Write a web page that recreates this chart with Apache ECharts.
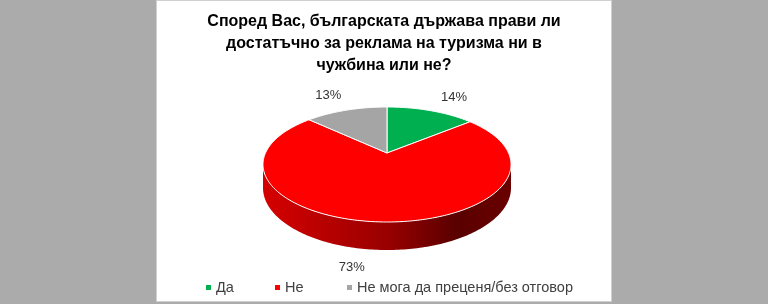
<!DOCTYPE html>
<html><head><meta charset="utf-8">
<script src="https://cdn.jsdelivr.net/npm/echarts/dist/echarts.min.js"></script>
<style>html,body{margin:0;padding:0;background:#ababab}#c{width:768px;height:304px}</style>
</head><body><div id="c"></div>
<script>
// ---- data ----
const titleLines = ['Според Вас, българската държава прави ли', 'достатъчно за реклама на туризма ни в', 'чужбина или не?'];
const categories = ['Да', 'Не', 'Не мога да преценя/без отговор'];
const values = [14, 73, 13];
// ---- style ----
const colors = ['#00b050', '#ff0000', '#a5a5a5'];
const labelNudge = [[4, 1], [-29, 1], [0, 0]];
const legendLeft = [201, 270, 342];

const total = values.reduce((a, b) => a + b, 0);
const startDeg = [], endDeg = [];
let acc = 0;
values.forEach(v => { startDeg.push(acc / total * 360); acc += v; endDeg.push(acc / total * 360); });

// 3D perspective pie geometry (layout)
const K = 0.2, A = 55.2, B = 121.5, DEPTH = 22.4;
const CXF = 387 / 768, CYF = 153 / 304;
const LABEL_RX = 45, LABEL_RY = 16;
const SIL = Math.acos(-K) * 180 / Math.PI;

function proj(cx, cy, deg, r, h) {
  const t = deg * Math.PI / 180, c = Math.cos(t), s = Math.sin(t);
  const sc = 1 / (1 + K * r * c);
  return [cx + B * r * s * sc, cy - A * r * c * sc + h * sc];
}
function arc(cx, cy, a0, a1, r, h) {
  const n = Math.max(2, Math.ceil(Math.abs(a1 - a0)));
  const pts = [];
  for (let i = 0; i <= n; i++) pts.push(proj(cx, cy, a0 + (a1 - a0) * i / n, r, h));
  return pts;
}
function shade(hex, f) {
  const n = parseInt(hex.slice(1), 16);
  const r = Math.round(((n >> 16) & 255) * f), g = Math.round(((n >> 8) & 255) * f), b = Math.round((n & 255) * f);
  return 'rgb(' + r + ',' + g + ',' + b + ')';
}

function renderItem(params, api) {
  const i = params.seriesIndex;
  const W = api.getWidth(), H = api.getHeight();
  const cx = W * CXF, cy = H * CYF;
  const v = api.value(0), a0 = api.value(1), a1 = api.value(2);
  const color = colors[i];
  const children = [];
  const lo = Math.max(a0, SIL), hi = Math.min(a1, 360 - SIL);
  if (lo < hi) {
    const pts = arc(cx, cy, lo, hi, 1, 0).concat(arc(cx, cy, hi, lo, 1, DEPTH));
    children.push({
      type: 'polygon', z2: 0, shape: { points: pts },
      style: {
        fill: {
          type: 'linear', x: cx - B * 1.03, y: 0, x2: cx + B * 1.03, y2: 0, global: true,
          colorStops: [
            { offset: 0, color: shade(color, 0.84) },
            { offset: 0.5, color: shade(color, 0.6) },
            { offset: 0.78, color: shade(color, 0.35) },
            { offset: 1, color: shade(color, 0.42) }
          ]
        }
      }
    });
  }
  const top = [[cx, cy]].concat(arc(cx, cy, a0, a1, 1, 0));
  children.push({
    type: 'polygon', z2: 10, shape: { points: top },
    style: { fill: color, stroke: '#ffffff', lineWidth: 1, lineJoin: 'round' }
  });
  const mid = (a0 + a1) / 2, rad = mid * Math.PI / 180;
  const front = Math.cos(rad) < 0;
  const e = proj(cx, cy, mid, 1, front ? DEPTH : 0);
  const lx = e[0] + LABEL_RX * Math.sin(rad) + labelNudge[i][0];
  const ly = e[1] - LABEL_RY * Math.cos(rad) + labelNudge[i][1];
  children.push({
    type: 'text', z2: 20, x: lx, y: ly,
    style: {
      text: Math.round(v / total * 100) + '%', fill: '#333333',
      fontSize: 13, fontFamily: '"Liberation Sans", Arial, sans-serif',
      align: 'center', verticalAlign: 'middle'
    }
  });
  return { type: 'group', children: children };
}

const chart = echarts.init(document.getElementById('c'), null, { renderer: 'canvas' });
chart.setOption({
  animation: false,
  backgroundColor: '#ababab',
  graphic: [{
    type: 'rect', z: 0, silent: true,
    shape: { x: 156.5, y: 0.5, width: 455, height: 301 },
    style: { fill: '#ffffff', stroke: '#d0d0d0', lineWidth: 1 }
  }],
  title: {
    text: titleLines.join('\n'), left: 'center', top: 6,
    textStyle: {
      fontSize: 16, fontWeight: 'bold', color: '#000000', lineHeight: 22,
      fontFamily: '"Liberation Sans", Arial, sans-serif'
    }
  },
  legend: categories.map((c, i) => ({
    data: [c], left: legendLeft[i], top: 275, icon: 'rect',
    itemWidth: 5, itemHeight: 5, itemGap: 0, selectedMode: false,
    textStyle: { fontSize: 14.5, color: '#404040', fontFamily: '"Liberation Sans", Arial, sans-serif', padding: [0, 0, 0, 0] }
  })),
  series: categories.map((c, i) => ({
    type: 'custom', name: c, coordinateSystem: 'none',
    itemStyle: { color: colors[i] },
    renderItem: renderItem,
    data: [[values[i], startDeg[i], endDeg[i]]]
  }))
});
</script></body></html>
